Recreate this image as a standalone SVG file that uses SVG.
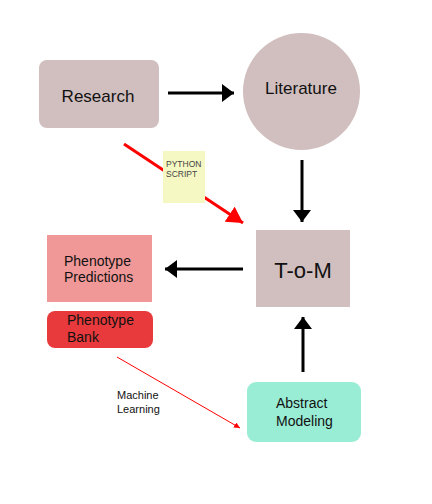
<svg xmlns="http://www.w3.org/2000/svg" width="432" height="504" viewBox="0 0 432 504">
<style>
text{font-family:"Liberation Sans",Arial,sans-serif;fill:#111}
.k{stroke:#000;stroke-width:3;fill:none}
</style>
<defs>
<marker id="ah" markerUnits="userSpaceOnUse" markerWidth="14" markerHeight="20" refX="12" refY="9" orient="auto" viewBox="0 0 14 20"><path d="M0,0 L12,9 L0,18 Z" fill="#000"/></marker>
<marker id="rh" markerUnits="userSpaceOnUse" markerWidth="20" markerHeight="20" refX="16" refY="9" orient="auto" viewBox="0 0 20 20"><path d="M0,0 L16,9 L0,18 Z" fill="#f00"/></marker>
<marker id="rs" markerUnits="userSpaceOnUse" markerWidth="8" markerHeight="8" refX="6" refY="3" orient="auto" viewBox="0 0 8 8"><path d="M0,0 L6,3 L0,6 Z" fill="#f00"/></marker>
</defs>
<rect width="432" height="504" fill="#fff"/>
<g id="research"><rect x="39" y="60" width="120" height="68" rx="8" fill="#d1bfbf"/><text x="98" y="102" font-size="17" text-anchor="middle">Research</text></g>
<g id="literature"><circle cx="301.5" cy="91.5" r="58.5" fill="#d1bfbf"/><text x="301" y="94" font-size="17" text-anchor="middle">Literature</text></g>
<g id="tom"><rect x="256" y="230" width="94" height="77" fill="#d1bfbf"/><text x="303" y="278" font-size="22" text-anchor="middle">T-o-M</text></g>
<g id="predictions"><rect x="47" y="235" width="105" height="67" fill="#f09898"/><text x="64" y="266" font-size="14">Phenotype</text><text x="64" y="282" font-size="14">Predictions</text></g>
<g id="bank"><rect x="47" y="311" width="106" height="37" rx="8" fill="#e83a3c"/><text x="67" y="325" font-size="14">Phenotype</text><text x="67" y="342" font-size="14">Bank</text></g>
<g id="abstract"><rect x="247" y="382" width="114" height="60" rx="9" fill="#9aedd5"/><text x="276" y="408" font-size="14">Abstract</text><text x="276" y="426" font-size="14">Modeling</text></g>
<g id="connectors">
<line class="k" x1="168" y1="93" x2="234" y2="93" marker-end="url(#ah)"/>
<line class="k" x1="302" y1="160" x2="302" y2="222" marker-end="url(#ah)"/>
<line class="k" x1="243" y1="269" x2="165" y2="269" marker-end="url(#ah)"/>
<line class="k" x1="303" y1="372" x2="303" y2="317" marker-end="url(#ah)"/>
<line x1="124" y1="144" x2="243" y2="223" stroke="#f00" stroke-width="3" marker-end="url(#rh)"/>
<line x1="117" y1="357" x2="240" y2="428" stroke="#f00" stroke-width="1" marker-end="url(#rs)"/>
</g>
<g id="python-note"><rect x="163" y="151" width="42" height="52" fill="#f5f8c2"/><text x="166" y="167" font-size="8.5" style="fill:#444">PYTHON</text><text x="166" y="177" font-size="8.5" style="fill:#444">SCRIPT</text></g>
<text x="117" y="399" font-size="11">Machine</text>
<text x="117" y="413" font-size="11">Learning</text>
</svg>
